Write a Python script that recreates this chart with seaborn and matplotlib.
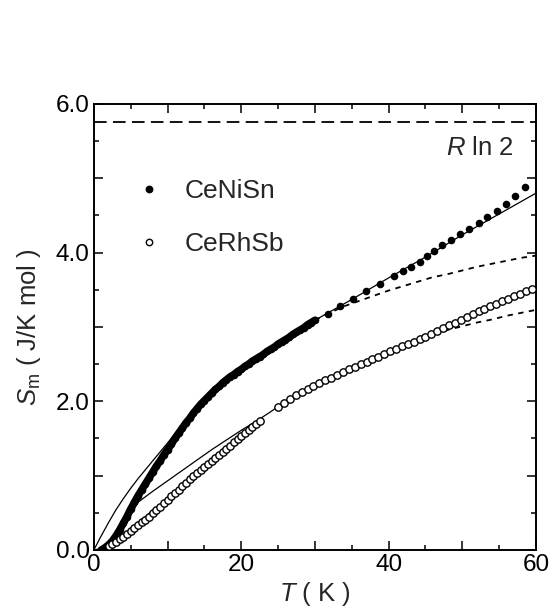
import matplotlib
matplotlib.use("Agg")
import matplotlib.pyplot as plt
import seaborn as sns
import numpy as np
from matplotlib.lines import Line2D

# Magnetic entropy S_m(T) of CeNiSn and CeRhSb
R_LN2 = 8.314 * np.log(2)

# CeNiSn, measured (dense below 30 K, sparse above)
cenisn_T = [1.0, 1.5, 2.0, 2.5, 3.0, 3.5, 4.0, 4.5, 5.0, 5.5, 6.0, 6.5, 7.0, 7.5,
            8.0, 8.5, 9.0, 9.5, 10.0, 10.5, 11.0, 11.5, 12.0, 12.5, 13.0, 13.5,
            14.0, 14.5, 15.0, 15.5, 16.0, 16.5, 17.0, 17.5, 18.0, 18.5, 19.0,
            19.5, 20.0, 20.5, 21.0, 21.5, 22.0, 22.5, 23.0, 23.5, 24.0, 24.5,
            25.0, 25.5, 26.0, 26.5, 27.0, 27.5, 28.0, 28.5, 29.0, 29.5, 30.0,
            31.8, 33.4, 35.2, 36.9, 38.8, 40.7, 41.9, 43.0, 44.2, 45.2, 46.2,
            47.3, 48.4, 49.7, 50.9, 52.2, 53.4, 54.7, 55.9, 57.2, 58.5]
cenisn_S = [0.00, 0.03, 0.07, 0.12, 0.19, 0.27, 0.36, 0.45, 0.55, 0.64, 0.73, 0.81,
            0.89, 0.97, 1.05, 1.13, 1.20, 1.28, 1.35, 1.42, 1.50, 1.57, 1.64, 1.71,
            1.77, 1.84, 1.90, 1.96, 2.01, 2.06, 2.11, 2.16, 2.20, 2.25, 2.29, 2.33,
            2.36, 2.40, 2.43, 2.47, 2.50, 2.54, 2.57, 2.60, 2.63, 2.67, 2.70, 2.73,
            2.77, 2.80, 2.83, 2.86, 2.90, 2.93, 2.96, 2.99, 3.03, 3.06, 3.09,
            3.18, 3.28, 3.38, 3.48, 3.58, 3.69, 3.75, 3.81, 3.88, 3.95, 4.02,
            4.10, 4.17, 4.25, 4.32, 4.40, 4.48, 4.56, 4.65, 4.76, 4.88]

# CeRhSb, measured
cerhsb_T = [2.0, 2.5, 3.0, 3.5, 4.0, 4.5, 5.0, 5.5, 6.0, 6.5, 7.0, 7.5, 8.0, 8.5,
            9.0, 9.5, 10.0, 10.5, 11.0, 11.5, 12.0, 12.5, 13.0, 13.5, 14.0, 14.5,
            15.0, 15.5, 16.0, 16.5, 17.0, 17.5, 18.0, 18.5, 19.0, 19.5, 20.0,
            20.5, 21.0, 21.5, 22.0, 22.5,
            25.0, 25.8, 26.6, 27.4, 28.2, 29.0, 29.8, 30.6, 31.4, 32.2, 33.0,
            33.8, 34.6, 35.4, 36.2, 37.0, 37.8, 38.6, 39.4, 40.2, 41.0, 41.8,
            42.6, 43.4, 44.2, 45.0, 45.8, 46.6, 47.4, 48.2, 49.0, 49.8, 50.6,
            51.4, 52.2, 53.0, 53.8, 54.6, 55.4, 56.2, 57.0, 57.8, 58.6, 59.4]
cerhsb_S = [0.05, 0.08, 0.11, 0.15, 0.18, 0.21, 0.25, 0.29, 0.33, 0.37, 0.41, 0.45,
            0.50, 0.54, 0.58, 0.63, 0.67, 0.72, 0.76, 0.81, 0.86, 0.90, 0.95, 0.99,
            1.03, 1.08, 1.12, 1.16, 1.20, 1.24, 1.28, 1.32, 1.36, 1.40, 1.45, 1.49,
            1.53, 1.57, 1.61, 1.65, 1.69, 1.73,
            1.93, 1.98, 2.03, 2.08, 2.12, 2.16, 2.20, 2.24, 2.28, 2.32, 2.36,
            2.40, 2.43, 2.46, 2.50, 2.53, 2.57, 2.60, 2.64, 2.67, 2.71, 2.74,
            2.77, 2.80, 2.84, 2.87, 2.91, 2.95, 2.98, 3.02, 3.06, 3.10, 3.14,
            3.17, 3.21, 3.24, 3.28, 3.31, 3.35, 3.38, 3.41, 3.45, 3.48, 3.51]

# Model curves (solid) for both compounds
fit_ni_T = [0, 1, 2, 3, 4, 5, 6, 7, 8, 9, 10, 11, 12, 13, 15, 18, 21, 24, 27, 30,
            35, 40, 45, 50, 55, 60]
fit_ni_S = [0, 0.19, 0.37, 0.54, 0.69, 0.83, 0.96, 1.08, 1.20, 1.32, 1.44, 1.56,
            1.66, 1.77, 2.01, 2.29, 2.50, 2.70, 2.90, 3.09, 3.37, 3.66, 3.94, 4.24,
            4.52, 4.80]
fit_rh_T = [0, 1, 2, 3, 4, 5, 6.1, 8, 10, 12, 14, 16, 18, 20, 22, 24, 26, 28, 30,
            35, 40, 45, 50, 55, 60]
fit_rh_S = [0, 0.02, 0.09, 0.20, 0.36, 0.50, 0.65, 0.79, 0.93, 1.07, 1.21, 1.35,
            1.48, 1.61, 1.73, 1.86, 2.00, 2.11, 2.20, 2.44, 2.66, 2.87, 3.10,
            3.32, 3.53]

# Alternative (dashed) curves at higher temperature
alt_ni_T = [30, 32, 34, 36, 38, 40, 42, 44, 46, 48, 50, 52, 54, 56, 58, 60]
alt_ni_S = [3.09, 3.19, 3.28, 3.35, 3.42, 3.49, 3.55, 3.61, 3.67, 3.71, 3.76,
            3.81, 3.85, 3.89, 3.93, 3.96]
alt_rh_T = [42, 44, 46, 48, 50, 52, 54, 56, 58, 60]
alt_rh_S = [2.76, 2.83, 2.90, 2.96, 3.01, 3.06, 3.10, 3.15, 3.19, 3.23]

x_ticks = [0, 10, 20, 30, 40, 50, 60]
x_labels = ["0", "", "20", "", "40", "", "60"]
y_ticks = [0, 1, 2, 3, 4, 5, 6]
y_labels = ["0.0", "", "2.0", "", "4.0", "", "6.0"]

sns.set_style("ticks")
plt.rcParams["font.family"] = ["Liberation Sans", "DejaVu Sans"]
plt.rcParams["mathtext.fontset"] = "custom"
plt.rcParams["mathtext.it"] = "Liberation Sans:italic"
plt.rcParams["mathtext.rm"] = "Liberation Sans"

fig = plt.figure(figsize=(5.52, 6.15), dpi=100)
ax = fig.add_axes([0.170, 0.1057, 0.801, 0.7253])

k = "black"
# R ln 2 limit
ax.axhline(R_LN2, color=k, lw=1.3, dashes=(7, 3.5))

# model curves
sns.lineplot(x=fit_ni_T, y=fit_ni_S, ax=ax, color=k, lw=0.9, sort=False, estimator=None)
sns.lineplot(x=fit_rh_T, y=fit_rh_S, ax=ax, color=k, lw=0.9, sort=False, estimator=None)
sns.lineplot(x=alt_ni_T, y=alt_ni_S, ax=ax, color=k, lw=1.3, sort=False,
             estimator=None, dashes=False, linestyle=(0, (3, 3)))
sns.lineplot(x=alt_rh_T, y=alt_rh_S, ax=ax, color=k, lw=1.3, sort=False,
             estimator=None, dashes=False, linestyle=(0, (3, 3)))

# dense low-T data merge into continuous bands
ni_T = np.array(cenisn_T)
ni_S = np.array(cenisn_S)
rh_T = np.array(cerhsb_T)
rh_S = np.array(cerhsb_S)
dense_ni = ni_T <= 30
dense_rh = rh_T <= 8
sns.lineplot(x=ni_T[dense_ni], y=ni_S[dense_ni], ax=ax, color=k, lw=5.4,
             sort=False, estimator=None, solid_capstyle="round")
sns.lineplot(x=rh_T[dense_rh], y=rh_S[dense_rh], ax=ax, color=k, lw=4.2,
             sort=False, estimator=None, solid_capstyle="round")

# data points
sns.scatterplot(x=ni_T, y=ni_S, ax=ax, color=k, s=30, marker="o",
                edgecolor=k, linewidth=0, zorder=4)
sns.scatterplot(x=rh_T, y=rh_S, ax=ax, facecolor="white", s=28, marker="o",
                edgecolor=k, linewidth=1.0, zorder=4)

# legend
handles = [
    Line2D([], [], ls="none", marker="o", ms=4.6, mfc=k, mec=k),
    Line2D([], [], ls="none", marker="o", ms=4.6, mfc="white", mec=k, mew=1.0),
]
ax.legend(handles, ["CeNiSn", "CeRhSb"], loc="upper left",
          bbox_to_anchor=(0.085, 0.855), frameon=False, fontsize=19,
          handlelength=0.5, handletextpad=1.1, labelspacing=1.1,
          borderaxespad=0)

ax.text(57.0, 5.41, r"$R$ ln 2", fontsize=18.5, ha="right", va="center")

ax.set_xlim(0, 60)
ax.set_ylim(0, 6)
ax.set_xticks(x_ticks)
ax.set_xticklabels(x_labels)
ax.set_yticks(y_ticks)
ax.set_yticklabels(y_labels)
ax.set_xticks(np.arange(0, 61, 5), minor=True)
ax.set_yticks(np.arange(0, 6.01, 0.5), minor=True)
ax.tick_params(which="both", direction="in", top=True, right=True,
               width=1.1, colors=k, labelsize=17.5)
ax.tick_params(which="major", length=6.5, pad=3)
ax.tick_params(which="minor", length=3.6)
for sp in ax.spines.values():
    sp.set_linewidth(1.4)
    sp.set_color(k)

ax.set_xlabel(r"$T$ ( K )", fontsize=18.5, labelpad=3)
ax.set_ylabel(r"$S_{\rm m}$ ( J/K mol )", fontsize=18.5, labelpad=9)

fig.savefig("out.png", dpi=100)
